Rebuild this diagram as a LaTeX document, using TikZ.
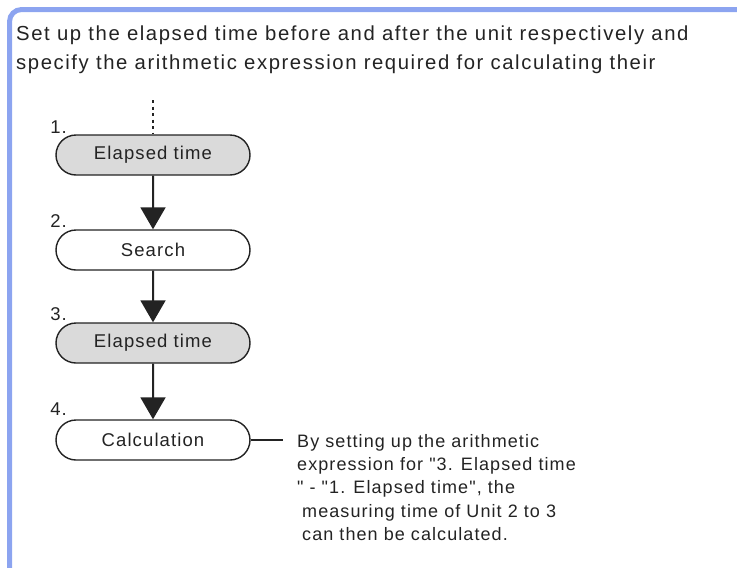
\documentclass[tikz,border=0pt]{standalone}
\usepackage{fontspec}
\setmainfont{Liberation Sans}
\usetikzlibrary{shapes.misc,arrows.meta}
\newfontfamily\tfont[LetterSpace=7.8]{Liberation Sans}
\newfontfamily\bfont[LetterSpace=6]{Liberation Sans}
\definecolor{framecol}{RGB}{140,164,240}
\definecolor{boxfill}{RGB}{218,218,218}
\definecolor{ink}{RGB}{35,35,35}
\begin{document}
\begin{tikzpicture}[x=1pt,y=-1pt,
  stepbox/.style={rounded rectangle, draw=ink, line width=1.4pt, minimum width=194pt, minimum height=40pt, inner sep=0pt, font=\bfont\fontsize{18.5}{20}\selectfont, text=ink},
  graybox/.style={stepbox, fill=boxfill},
  whitebox/.style={stepbox, fill=white},
  num/.style={anchor=base east, inner sep=0pt, font=\bfont\fontsize{18.5}{20}\selectfont, text=ink},
  flow/.style={draw=ink, line width=2pt, -{Triangle[width=25pt,length=22pt]}},
  plain/.style={draw=ink, line width=2pt},
  txt/.style={anchor=north west, inner sep=0pt, align=left, text=ink},
]
\useasboundingbox (0,0) rectangle (737,568);
\draw[framecol, line width=5pt, rounded corners=12pt] (9.5,572) -- (9.5,9.5) -- (742,9.5);
\node[txt, font=\tfont\fontsize{20.3}{29.5}\selectfont] (title) at (16,25.2)
  {Set up the elapsed time before and after the unit respectively and\\
   specify the arithmetic expression required for calculating their};
\node[graybox] (e1) at (153,155) {Elapsed time};
\node[whitebox] (s) at (153,250) {Search};
\node[graybox] (e3) at (153,343) {Elapsed time};
\node[whitebox] (c) at (153,440) {Calculation};
\node[num] (n1) at (67,133) {1.};
\node[num] (n2) at (67,227) {2.};
\node[num] (n3) at (67,320) {3.};
\node[num] (n4) at (67,415) {4.};
\coordinate (top) at (153,100);
\draw[plain, line width=2.4pt, dash pattern=on 3pt off 3.5pt] (top) -- (e1.north);
\draw[flow] (e1) -- (s);
\draw[flow] (s) -- (e3);
\draw[flow] (e3) -- (c);
\coordinate (cend) at (283,440);
\draw[plain] (c.east) -- (cend);
\node[txt, font=\bfont\fontsize{18}{23.3}\selectfont] (note) at (297,434)
  {By setting up the arithmetic\\
   expression for "3. Elapsed time\\
   " - "1. Elapsed time", the\\
   \hspace*{5pt}measuring time of Unit 2 to 3\\
   \hspace*{5pt}can then be calculated.};
\end{tikzpicture}
\end{document}
